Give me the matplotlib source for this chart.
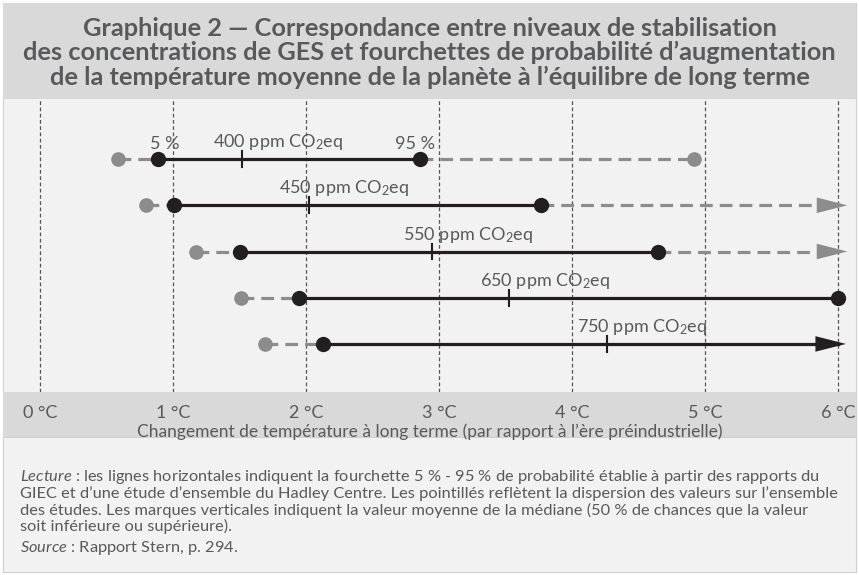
import matplotlib
matplotlib.use("Agg")
import matplotlib.pyplot as plt
from matplotlib.patches import Rectangle

plt.rcParams['font.family'] = ['Lato', 'DejaVu Sans']
plt.rcParams['mathtext.fontset'] = 'custom'
plt.rcParams['mathtext.rm'] = 'Lato'
plt.rcParams['mathtext.it'] = 'Lato:italic'

# données (°C)
niveaux = ['400', '450', '550', '650', '750']
bas = [0.59, 0.80, 1.17, 1.51, 1.69]          # extrémité basse (pointillés)
p5 = [0.89, 1.01, 1.50, 1.95, 2.13]           # 5 %
mediane = [1.52, 2.02, 2.95, 3.53, 4.26]      # valeur médiane
p95 = [2.86, 3.77, 4.65, 6.0, 6.0]            # 95 %
p95_fleche = [False, False, False, False, True]
haut = [4.92, 6.0, 6.0, 6.0, 6.0]             # extrémité haute (pointillés)
haut_fleche = [False, True, True, False, False]
ticks = [0, 1, 2, 3, 4, 5, 6]
tick_labels = ['0 °C', '1 °C', '2 °C', '3 °C', '4 °C', '5 °C', '6 °C']

W, H = 859, 575
fond = '#f2f2f2'
bande = '#d9d9d9'
noir = '#231f20'
gris = '#8c8c8c'
texte = '#58595b'

fig = plt.figure(figsize=(W / 100, H / 100), dpi=100)
fig.patch.set_facecolor('white')

def rect(x0, y0, x1, y1, fc, ec='none'):
    fig.patches.append(Rectangle((x0 / W, 1 - y1 / H), (x1 - x0) / W, (y1 - y0) / H,
                                 transform=fig.transFigure, fc=fc, ec=ec, lw=0.8, zorder=-5))

rect(3, 3, 856, 572, fond, '#d0d0d0')
rect(3, 3, 856, 99, bande)
rect(3, 392, 856, 437, bande)
rect(3, 437, 856, 572, fond, '#d0d0d0')

titre = ("Graphique 2 — Correspondance entre niveaux de stabilisation\n"
         "des concentrations de GES et fourchettes de probabilité d’augmentation\n"
         "de la température moyenne de la planète à l’équilibre de long terme")
fig.text(0.5, 1 - 53 / H, titre, ha='center', va='center', fontsize=18.3,
         fontweight='bold', color=texte, linespacing=1.08)

# axe principal : 0 °C à x=40 px, 133 px par degré
x0, ppd = 40, 133.0
ax = fig.add_axes([3 / W, 1 - 392 / H, 853 / W, 293 / H])
ax.set_facecolor('none')
ax.set_xlim((3 - x0) / ppd, (856 - x0) / ppd)
ax.set_ylim(5.04, -1.30)
for s in ax.spines.values():
    s.set_visible(False)
ax.set_yticks([])
ax.set_xticks(ticks)
ax.set_xticklabels(tick_labels, fontsize=13, color=texte)
ax.tick_params(axis='x', length=0, pad=9)
for t in ticks:
    ax.axvline(t, color='#555555', lw=0.9, ls=(0, (3, 2)), zorder=1)
ax.set_xlabel("Changement de température à long terme (par rapport à l’ère préindustrielle)",
              fontsize=12.5, color=texte, labelpad=2)

tirets = (0, (4, 2.2))
fleche = '-|>,head_length=1.1,head_width=0.28'
for i in range(len(niveaux)):
    y = i
    ax.plot([bas[i], p5[i]], [y, y], color=gris, lw=2.3, ls=tirets, zorder=2)
    ax.plot(bas[i], y, 'o', color=gris, ms=9.5, zorder=3)
    if haut[i] > p95[i] or haut_fleche[i]:
        fin = haut[i] - 0.05 if haut_fleche[i] else haut[i]
        ax.plot([p95[i], fin], [y, y], color=gris, lw=2.3, ls=tirets, zorder=2)
        if haut_fleche[i]:
            ax.annotate('', xy=(haut[i] + 0.07, y), xytext=(haut[i] - 0.12, y),
                        arrowprops=dict(arrowstyle=fleche, mutation_scale=20,
                                        color=gris, lw=0, shrinkA=0, shrinkB=0), zorder=3)
        else:
            ax.plot(haut[i], y, 'o', color=gris, ms=9.5, zorder=3)
    if p95_fleche[i]:
        ax.plot([p5[i], p95[i]], [y, y], color=noir, lw=2.3, zorder=4)
        ax.annotate('', xy=(p95[i] + 0.06, y), xytext=(p95[i] - 0.12, y),
                    arrowprops=dict(arrowstyle=fleche, mutation_scale=20,
                                    color=noir, lw=0, shrinkA=0, shrinkB=0), zorder=5)
    else:
        ax.plot([p5[i], p95[i]], [y, y], color=noir, lw=2.3, zorder=4)
        ax.plot(p95[i], y, 'o', color=noir, ms=10, zorder=5)
    ax.plot(p5[i], y, 'o', color=noir, ms=10, zorder=5)
    ax.plot([mediane[i], mediane[i]], [y - 0.17, y + 0.17], color=noir, lw=1.5, zorder=5)
    ax.annotate(niveaux[i] + ' ppm CO$_2$eq', xy=(mediane[i] - 0.22, y),
                xytext=(0, 5), textcoords='offset points', ha='left', va='bottom',
                fontsize=13, color=texte, zorder=6)

ax.annotate('5 %', xy=(p5[0] + 0.05, 0), xytext=(0, 5), textcoords='offset points',
            ha='center', va='bottom', fontsize=13, color=texte)
ax.annotate('95 %', xy=(p95[0] - 0.04, 0), xytext=(0, 5), textcoords='offset points',
            ha='center', va='bottom', fontsize=13, color=texte)

# note de lecture
lignes = [
    r"$\it{Lecture}$ : les lignes horizontales indiquent la fourchette 5 % - 95 % de probabilité établie à partir des rapports du",
    "GIEC et d’une étude d’ensemble du Hadley Centre. Les pointillés reflètent la dispersion des valeurs sur l’ensemble",
    "des études. Les marques verticales indiquent la valeur moyenne de la médiane (50 % de chances que la valeur",
    "soit inférieure ou supérieure).",
]
for k, l in enumerate(lignes):
    fig.text(20 / W, 1 - (477 + 16.5 * k) / H, l, ha='left', va='center', fontsize=11.8, color=texte)
fig.text(20 / W, 1 - 548 / H, r"$\it{Source}$ : Rapport Stern, p. 294.", ha='left', va='center',
         fontsize=11.8, color=texte)

fig.savefig('out.png', dpi=100, facecolor=fig.get_facecolor())
